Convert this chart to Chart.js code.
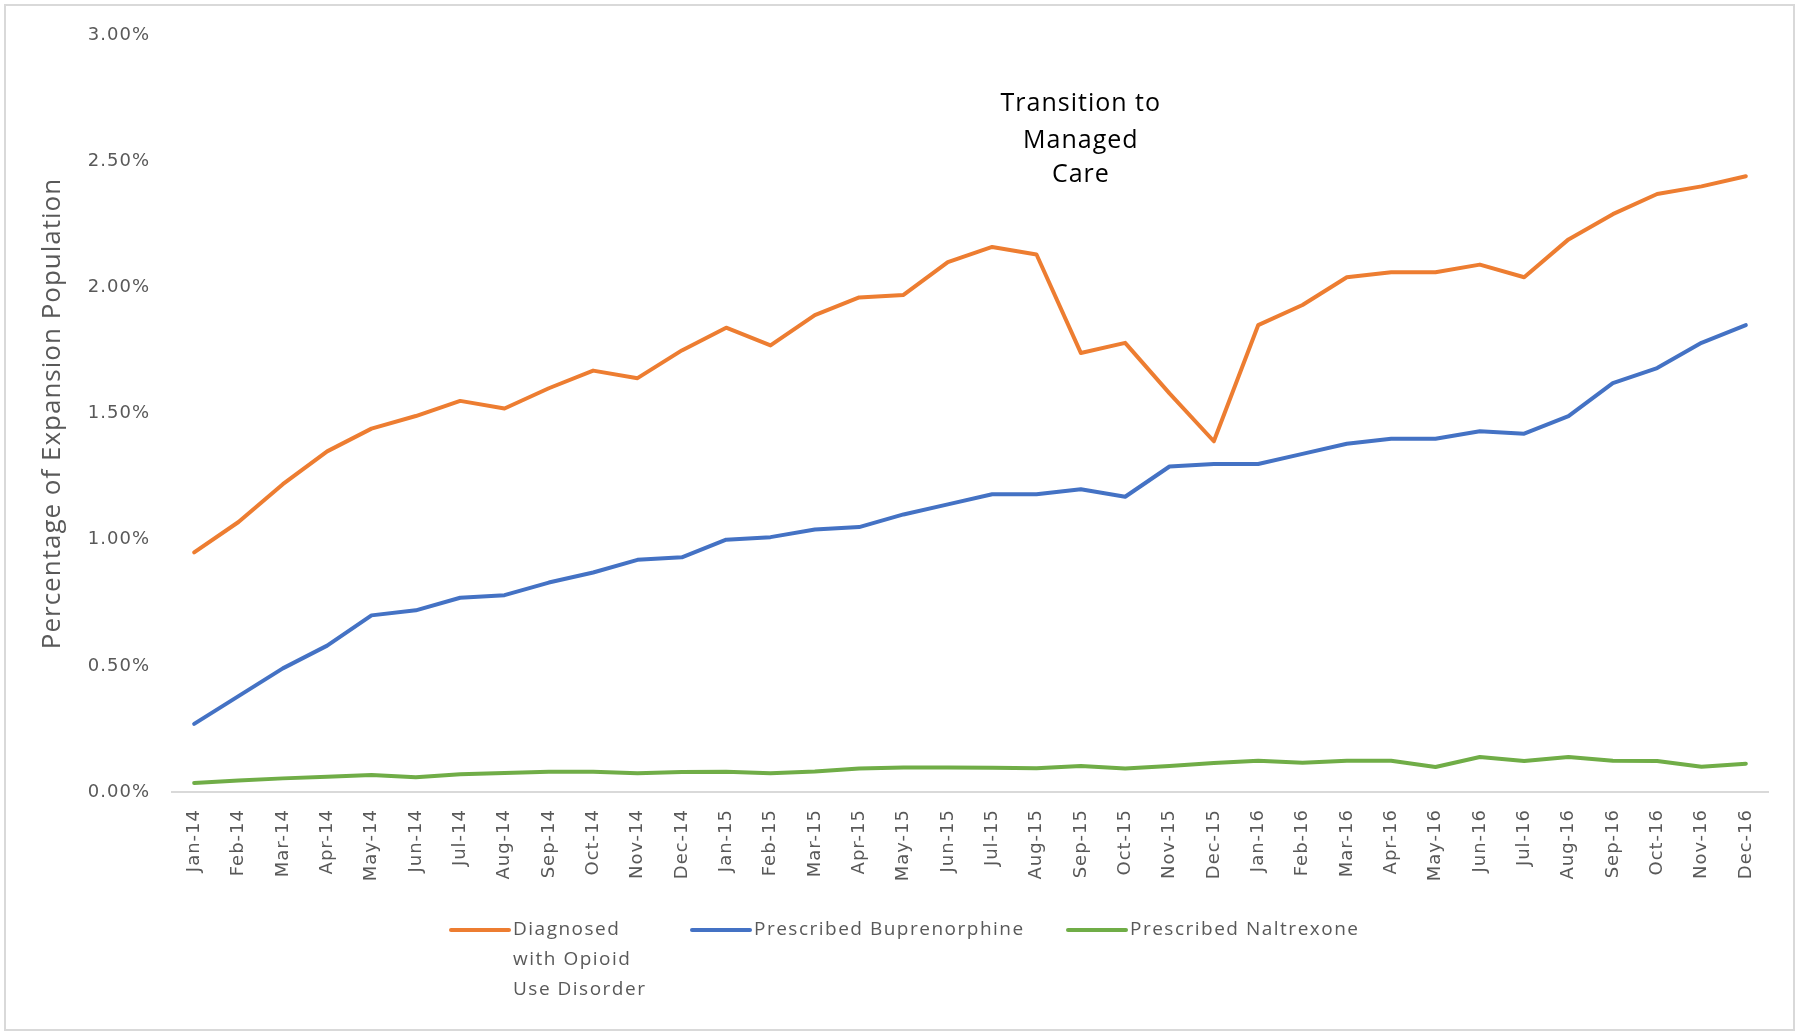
<!DOCTYPE html>
<html lang="en">
<head>
<meta charset="UTF-8">
<title>Opioid Use Disorder in the Expansion Population</title>
<script src="https://cdn.jsdelivr.net/npm/chart.js@4.4.0/dist/chart.umd.min.js"></script>
<style>
  body { margin: 0; background: #fff; }
  canvas { display: block; }
</style>
</head>
<body>
<canvas id="chart" width="1800" height="1035"></canvas>
<script>
const months = [
  'Jan-14', 'Feb-14', 'Mar-14', 'Apr-14', 'May-14', 'Jun-14', 'Jul-14', 'Aug-14', 'Sep-14', 'Oct-14', 'Nov-14', 'Dec-14',
  'Jan-15', 'Feb-15', 'Mar-15', 'Apr-15', 'May-15', 'Jun-15', 'Jul-15', 'Aug-15', 'Sep-15', 'Oct-15', 'Nov-15', 'Dec-15',
  'Jan-16', 'Feb-16', 'Mar-16', 'Apr-16', 'May-16', 'Jun-16', 'Jul-16', 'Aug-16', 'Sep-16', 'Oct-16', 'Nov-16', 'Dec-16'
];

// percent of expansion population
const diagnosed = [
  0.95, 1.07, 1.22, 1.35, 1.44, 1.49, 1.55, 1.52, 1.60, 1.67, 1.64, 1.75,
  1.84, 1.77, 1.89, 1.96, 1.97, 2.10, 2.16, 2.13, 1.74, 1.78, 1.58, 1.39,
  1.85, 1.93, 2.04, 2.06, 2.06, 2.09, 2.04, 2.19, 2.29, 2.37, 2.40, 2.44
];
const buprenorphine = [
  0.27, 0.38, 0.49, 0.58, 0.70, 0.72, 0.77, 0.78, 0.83, 0.87, 0.92, 0.93,
  1.00, 1.01, 1.04, 1.05, 1.10, 1.14, 1.18, 1.18, 1.20, 1.17, 1.29, 1.30,
  1.30, 1.34, 1.38, 1.40, 1.40, 1.43, 1.42, 1.49, 1.62, 1.68, 1.78, 1.85
];
const naltrexone = [
  0.036, 0.046, 0.054, 0.060, 0.067, 0.058, 0.070, 0.075, 0.080, 0.080, 0.074, 0.079,
  0.080, 0.074, 0.081, 0.093, 0.097, 0.097, 0.096, 0.094, 0.103, 0.093, 0.103, 0.115,
  0.124, 0.116, 0.124, 0.124, 0.099, 0.139, 0.123, 0.139, 0.124, 0.123, 0.100, 0.112
];

const seriesNames = ['Diagnosed with Opioid Use Disorder', 'Prescribed Buprenorphine', 'Prescribed Naltrexone'];
const legendLines = [['Diagnosed', 'with Opioid', 'Use Disorder'], ['Prescribed Buprenorphine'], ['Prescribed Naltrexone']];
const noteLines = ['Transition to', 'Managed', 'Care'];
const noteAt = 'Sep-15';

const extras = {
  id: 'extras',
  beforeDraw(chart) {
    const ctx = chart.ctx;
    ctx.save();
    ctx.fillStyle = '#fff';
    ctx.fillRect(0, 0, chart.width, chart.height);
    ctx.restore();
    // the original's axis text is loosely spaced
    ctx.letterSpacing = '1px';
  },
  afterDraw(chart) {
    const ctx = chart.ctx;
    ctx.save();
    // outer frame
    ctx.strokeStyle = '#d9d9d9';
    ctx.lineWidth = 2;
    ctx.strokeRect(5, 5, 1789, 1025);

    // annotation over the managed care month
    const nx = chart.scales.x.getPixelForValue(months.indexOf(noteAt));
    ctx.fillStyle = '#000';
    ctx.font = '25px "Open Sans"';
    ctx.letterSpacing = '1px';
    ctx.textAlign = 'center';
    ctx.textBaseline = 'middle';
    [104, 141, 175].forEach((y, i) => ctx.fillText(noteLines[i], nx, y));

    // legend
    const legendX = [451, 692, 1068];
    ctx.font = '19px "Open Sans"';
    ctx.letterSpacing = '1.5px';
    ctx.textAlign = 'left';
    ctx.fillStyle = '#595959';
    chart.data.datasets.forEach((ds, i) => {
      const x0 = legendX[i];
      ctx.strokeStyle = ds.borderColor;
      ctx.lineWidth = 4;
      ctx.lineCap = 'round';
      ctx.beginPath();
      ctx.moveTo(x0, 930);
      ctx.lineTo(x0 + 58, 930);
      ctx.stroke();
      legendLines[i].forEach((t, j) => ctx.fillText(t, x0 + 62, 930 + j * 30));
    });
    ctx.restore();
  }
};

const ctx = document.getElementById('chart').getContext('2d');
new Chart(ctx, {
  type: 'line',
  data: {
    labels: months,
    datasets: [
      { label: seriesNames[0], data: diagnosed, borderColor: '#ED7D31' },
      { label: seriesNames[1], data: buprenorphine, borderColor: '#4472C4' },
      { label: seriesNames[2], data: naltrexone, borderColor: '#70AD47' }
    ]
  },
  options: {
    responsive: false,
    animation: false,
    layout: { padding: { top: 35, right: 32, bottom: 133, left: 0 } },
    plugins: { legend: { display: false }, tooltip: { enabled: false } },
    elements: {
      point: { radius: 0 },
      line: { tension: 0, borderWidth: 4, borderJoinStyle: 'round', borderCapStyle: 'round' }
    },
    scales: {
      x: {
        offset: true,
        grid: { display: false, drawTicks: false },
        border: { color: '#d9d9d9', width: 2 },
        ticks: {
          autoSkip: false, maxRotation: 90, minRotation: 90, padding: 17,
          color: '#595959', font: { family: 'DejaVu Sans', size: 18 }
        },
        afterFit(s) { s.height = 110; }
      },
      y: {
        min: 0,
        max: 3,
        grid: { display: false, drawTicks: false },
        border: { display: false },
        ticks: {
          stepSize: 0.5, padding: 22,
          color: '#595959', font: { family: 'DejaVu Sans', size: 18 },
          callback: v => v.toFixed(2) + '%'
        },
        title: {
          display: true,
          text: 'Percentage of Expansion Population',
          color: '#595959',
          font: { family: 'Open Sans', size: 26 },
          padding: { top: 37 }
        },
        afterFit(s) { s.width = 172; }
      }
    }
  },
  plugins: [extras]
});
</script>
</body>
</html>
